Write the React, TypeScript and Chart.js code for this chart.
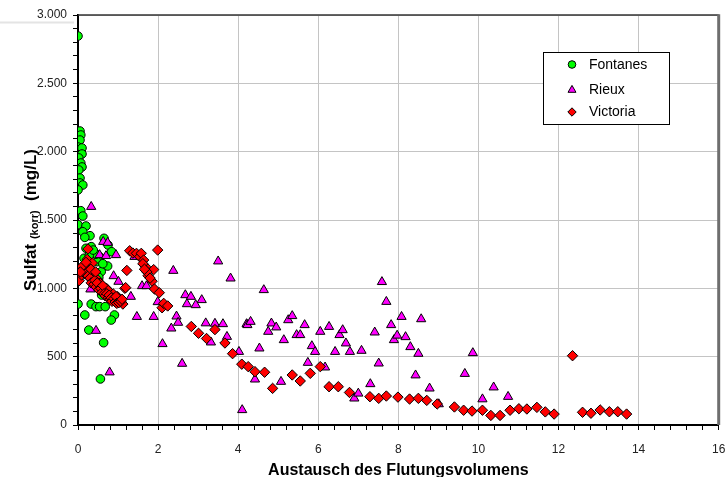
import React, { useEffect, useRef } from "react";
import { Chart, registerables } from "chart.js";

Chart.register(...registerables);

// Exchanged flooding volumes (x) and corrected sulphate in mg/L (y) per mine
const seriesNames = ["Fontanes", "Rieux", "Victoria"];

const fontanesX = [
  0.0, 0.05, 0.07, 0.05, 0.0, 0.1, 0.1, 0.02, 0.07, 0.1, 0.02, 0.05, 0.05, 0.12, 0.0,
  0.07, 0.12, 0.0, 0.2, 0.12, 0.3, 0.17, 0.33, 0.2, 0.65, 0.75, 0.84, 0.54, 0.48, 0.74,
  0.2, 0.58, 0.69, 0.59, 0.0, 0.33, 0.45, 0.54, 0.68, 0.91, 0.17, 0.83, 0.27, 0.64, 0.56,
  0.4, 0.55, 0.7, 0.8, 0.35, 0.25, 0.45, 0.62, 0.15, 0.28, 0.38, 0.52,
];
const fontanesY = [
  2846, 2151, 2122, 2085, 2034, 2027, 1983, 1954, 1917, 1888, 1866, 1807, 1771, 1756, 1720,
  1568, 1529, 1466, 1456, 1414, 1385, 1373, 1305, 1293, 1366, 1317, 1268, 1231, 1195, 1163,
  1158, 1122, 959, 951, 885, 885, 866, 866, 866, 805, 805, 768, 695, 602, 337,
  1050, 1000, 980, 940, 1100, 1150, 1250, 1180, 1220, 1240, 1280, 1080,
];

const rieuxX = [
  0.33, 0.63, 0.74, 0.54, 0.7, 0.95, 0.89, 1.01, 1.6, 1.71, 0.31, 1.32, 1.47, 1.89, 0.45,
  0.79, 1.41, 2.38, 3.5, 3.81, 1.99, 2.68, 2.82, 3.09, 2.72, 2.94, 2.46, 2.5, 2.33, 3.19,
  3.42, 3.62, 3.72, 3.32, 2.11, 2.6, 4.1, 4.21, 4.64, 4.23, 4.31, 4.02, 4.53, 4.75, 4.83,
  4.95, 5.14, 5.25, 5.35, 5.46, 5.55, 5.66, 5.84, 5.92, 5.74, 4.42, 5.07, 6.05, 6.17, 6.27,
  6.42, 6.53, 6.61, 6.69, 6.79, 7.08, 6.9, 7.0, 7.3, 7.41, 7.51, 7.59, 7.7, 7.82, 7.89,
  7.97, 8.08, 8.18, 8.3, 8.43, 8.5, 8.57, 8.78, 9.01, 9.66, 9.86, 10.1, 10.38, 10.74,
];
const rieuxY = [
  1597, 1341, 1334, 1244, 1237, 1244, 1090, 1049, 1017, 1017, 993, 939, 792, 792, 690,
  386, 1231, 1129, 1198, 1073, 900, 951, 939, 915, 885, 878, 795, 749, 707, 745,
  742, 739, 646, 605, 593, 449, 110, 739, 988, 732, 756, 536, 561, 683, 744,
  715, 622, 768, 798, 659, 659, 732, 578, 536, 456, 334, 317, 683, 422, 719,
  536, 659, 695, 598, 536, 544, 195, 231, 300, 678, 451, 1047, 902, 732, 622,
  655, 792, 644, 571, 364, 522, 775, 268, 153, 375, 527, 189, 276, 207,
];

const victoriaX = [
  0.03, 0.25, 0.23, 0.36, 0.13, 0.28, 0.09, 0.38, 0.5, 0.55, 0.66, 0.71, 0.74, 0.88, 0.99,
  1.04, 1.12, 1.17, 1.19, 1.22, 1.29, 1.37, 1.46, 1.54, 1.58, 1.64, 1.69, 1.75, 1.85, 1.89,
  1.99, 1.91, 2.03, 2.1, 2.14, 2.24, 2.83, 3.01, 3.21, 3.42, 3.67, 3.86, 4.09, 4.25, 4.42,
  4.66, 4.86, 5.35, 5.55, 5.8, 6.05, 6.27, 6.5, 6.78, 7.29, 7.51, 7.7, 7.99, 8.28, 8.5,
  8.71, 8.97, 9.4, 9.63, 9.84, 10.1, 10.31, 10.54, 10.79, 11.01, 11.21, 11.46, 11.67, 11.89, 12.35,
  12.6, 12.81, 13.04, 13.27, 13.48, 13.7,
  0.15, 0.2, 0.18, 0.25, 0.3, 0.33, 0.4, 0.42, 0.45, 0.48, 0.52, 0.57, 0.6, 0.62, 0.65,
  0.68, 0.72, 0.76, 0.78, 0.8, 0.83, 0.85, 0.9, 0.93, 0.95, 0.97, 1.02, 1.07, 1.1, 0.1,
  0.06, 0.2, 0.32, 0.44, 1.62, 1.72, 1.8, 1.66,
];
const victoriaY = [
  1056, 1288, 1212, 1185, 1134, 1122, 1098, 1085, 1061, 1037, 1007, 1000, 988, 959, 939,
  915, 885, 1000, 1005, 1131, 1275, 1258, 1256, 1231, 1256, 1207, 1158, 1092, 1052, 1137,
  1280, 995, 968, 858, 890, 871, 721, 671, 633, 698, 600, 522, 445, 427, 390,
  386, 268, 366, 322, 378, 427, 280, 280, 238, 207, 195, 212, 204, 190, 195,
  180, 154, 132, 108, 102, 108, 70, 70, 108, 119, 117, 129, 96, 80, 507,
  93, 86, 110, 97, 97, 80,
  1170, 1150, 1105, 1090, 1075, 1040, 1030, 1060, 1010, 1040, 990, 1000, 970, 1020, 960,
  945, 960, 930, 950, 920, 930, 905, 925, 900, 940, 890, 895, 905, 920, 1160,
  1120, 1190, 1140, 1120, 1180, 1120, 1075, 1140,
];

const X_MIN = 0;
const X_MAX = 16;
const X_MAJOR = 2;
const X_MINOR = 0.4;
const Y_MIN = 0;
const Y_MAX = 3000;
const Y_MAJOR = 500;
const Y_MINOR = 100;

const FONT = "'Liberation Sans', Arial, Helvetica, sans-serif";

const seriesStyles = [
  { pointStyle: "circle", radius: 4.3, color: "#00ff00", legendRadius: 3.8 },
  { pointStyle: "triangle", radius: 5.3, color: "#ff00ff", legendRadius: 4.6 },
  { pointStyle: "rectRot", radius: 5.2, color: "#ff0000", legendRadius: 4.2 },
];

const toPoints = (xs: number[], ys: number[]) => xs.map((x, i) => ({ x, y: ys[i] }));

const isMultiple = (v: number, step: number) => Math.abs(v / step - Math.round(v / step)) < 1e-6;

// German thousands separator: 3000 -> "3.000"
const formatDe = (v: number) => {
  const n = Math.round(v);
  if (n < 1000) return String(n);
  return Math.floor(n / 1000) + "." + String(n % 1000).padStart(3, "0");
};

function drawMarker(ctx: CanvasRenderingContext2D, style: string, x: number, y: number, r: number, fill: string) {
  ctx.beginPath();
  if (style === "circle") {
    ctx.arc(x, y, r, 0, Math.PI * 2);
  } else if (style === "triangle") {
    for (let k = 0; k < 3; k++) {
      const a = (k * 2 * Math.PI) / 3;
      const px = x + Math.sin(a) * r;
      const py = y - Math.cos(a) * r;
      if (k === 0) ctx.moveTo(px, py);
      else ctx.lineTo(px, py);
    }
  } else {
    ctx.moveTo(x, y - r);
    ctx.lineTo(x + r, y);
    ctx.lineTo(x, y + r);
    ctx.lineTo(x - r, y);
  }
  ctx.closePath();
  ctx.fillStyle = fill;
  ctx.fill();
  ctx.lineWidth = 1;
  ctx.strokeStyle = "#000";
  ctx.stroke();
}

const decorPlugin = {
  id: "decor",
  afterDraw(chart: any) {
    const { ctx, chartArea } = chart;
    const { left, right, top, bottom } = chartArea;
    ctx.save();

    // faint sheet line at the upper left
    ctx.strokeStyle = "#e4e4e4";
    ctx.lineWidth = 2;
    ctx.beginPath();
    ctx.moveTo(0, 22.5);
    ctx.lineTo(left - 4, 22.5);
    ctx.stroke();

    // frame: top and right edges of the plot area
    ctx.strokeStyle = "#333";
    ctx.lineWidth = 1.5;
    ctx.beginPath();
    ctx.moveTo(left, top);
    ctx.lineTo(right, top);
    ctx.stroke();
    ctx.strokeStyle = "#6e6e6e";
    ctx.lineWidth = 3;
    ctx.beginPath();
    ctx.moveTo(right, top - 0.75);
    ctx.lineTo(right, bottom);
    ctx.stroke();

    // legend box
    const lx = left + 465.5;
    const ly = top + 37.5;
    const lw = 126;
    const lh = 72;
    ctx.fillStyle = "#fff";
    ctx.fillRect(lx, ly, lw, lh);
    ctx.strokeStyle = "#000";
    ctx.lineWidth = 1;
    ctx.strokeRect(lx, ly, lw, lh);
    const rows = [12, 37.5, 59.5];
    ctx.font = `14px ${FONT}`;
    ctx.textBaseline = "middle";
    ctx.textAlign = "left";
    chart.data.datasets.forEach((ds: any, i: number) => {
      const st = seriesStyles[i];
      const cy = ly + rows[i];
      drawMarker(ctx, st.pointStyle, lx + 28.5, cy, st.legendRadius, st.color);
      ctx.fillStyle = "#000";
      ctx.fillText(ds.label, lx + 45.5, cy + 0.5);
    });

    // x axis title
    ctx.fillStyle = "#000";
    ctx.font = `bold 16px ${FONT}`;
    ctx.textAlign = "center";
    ctx.textBaseline = "alphabetic";
    ctx.fillText("Austausch des Flutungsvolumens", (left + right) / 2, 475);

    // y axis title with subscript
    const parts = [
      { t: "Sulfat ", f: `bold 17px ${FONT}`, dy: 0 },
      { t: "(korr)", f: `bold 11px ${FONT}`, dy: 1.5 },
      { t: "  (mg/L)", f: `bold 17px ${FONT}`, dy: 0 },
    ];
    let total = 0;
    const widths = parts.map((p) => {
      ctx.font = p.f;
      const w = ctx.measureText(p.t).width;
      total += w;
      return w;
    });
    ctx.translate(36, (top + bottom) / 2);
    ctx.rotate(-Math.PI / 2);
    ctx.textAlign = "left";
    let cx = -total / 2;
    parts.forEach((p, i) => {
      ctx.font = p.f;
      ctx.fillText(p.t, cx, p.dy);
      cx += widths[i];
    });

    ctx.restore();
  },
};

export default function App() {
  const canvasRef = useRef<HTMLCanvasElement | null>(null);

  useEffect(() => {
    const canvas = canvasRef.current;
    if (!canvas) return;

    const seriesData = [
      toPoints(fontanesX, fontanesY),
      toPoints(rieuxX, rieuxY),
      toPoints(victoriaX, victoriaY),
    ];

    const datasets = seriesNames.map((name, i) => ({
      label: name,
      data: seriesData[i],
      pointStyle: seriesStyles[i].pointStyle,
      pointRadius: seriesStyles[i].radius,
      pointHoverRadius: seriesStyles[i].radius,
      pointBackgroundColor: seriesStyles[i].color,
      pointBorderColor: "#000",
      pointBorderWidth: 1,
      backgroundColor: seriesStyles[i].color,
      borderColor: "#000",
      showLine: false,
      // later series are painted above earlier ones
      order: seriesNames.length - 1 - i,
    }));

    const chart = new Chart(canvas, {
      type: "scatter",
      data: { datasets },
      options: {
        animation: false,
        responsive: false,
        devicePixelRatio: 1,
        layout: { padding: { left: 0, right: 3, top: 15, bottom: 0 } },
        plugins: {
          legend: { display: false },
          tooltip: { enabled: false },
          title: { display: false },
        },
        scales: {
          x: {
            type: "linear",
            position: "bottom",
            min: X_MIN,
            max: X_MAX,
            ticks: {
              stepSize: X_MINOR,
              autoSkip: false,
              maxRotation: 0,
              padding: 12,
              color: "#222",
              font: { family: FONT, size: 12 },
              callback: (v: any) => (isMultiple(Number(v), X_MAJOR) ? String(Math.round(Number(v))) : ""),
            },
            grid: {
              color: (c: any) => (c.tick && isMultiple(c.tick.value, X_MAJOR) ? "#c4c4c4" : "rgba(0,0,0,0)"),
              tickColor: "#000",
              tickLength: 5,
              lineWidth: 1,
            },
            border: { color: "#000", width: 2 },
            afterFit: (scale: any) => {
              scale.height = 52;
              scale.paddingRight = 0;
              scale.paddingLeft = 0;
            },
          },
          y: {
            type: "linear",
            min: Y_MIN,
            max: Y_MAX,
            ticks: {
              stepSize: Y_MINOR,
              autoSkip: false,
              padding: 6,
              color: "#222",
              font: { family: FONT, size: 12 },
              callback: (v: any) => (isMultiple(Number(v), Y_MAJOR) ? formatDe(Number(v)) : ""),
            },
            grid: {
              color: (c: any) => (c.tick && isMultiple(c.tick.value, Y_MAJOR) ? "#c4c4c4" : "rgba(0,0,0,0)"),
              tickColor: "#000",
              tickLength: 5,
              lineWidth: 1,
            },
            border: { color: "#000", width: 2 },
            afterFit: (scale: any) => {
              scale.width = 78;
            },
          },
        },
      },
      plugins: [decorPlugin],
    } as any);

    return () => chart.destroy();
  }, []);

  return (
    <div style={{ position: "fixed", left: 0, top: 0, width: 725, height: 477, background: "#fff" }}>
      <canvas ref={canvasRef} width={725} height={477} style={{ display: "block" }} />
    </div>
  );
}
